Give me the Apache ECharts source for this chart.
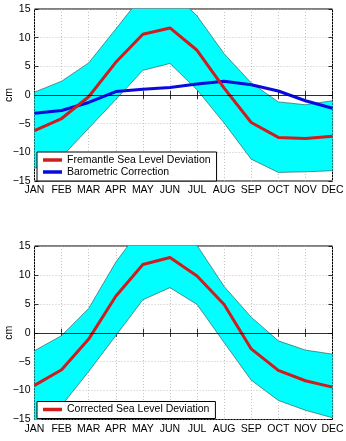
<!DOCTYPE html>
<html>
<head>
<meta charset="utf-8">
<script src="https://cdn.jsdelivr.net/npm/echarts@6/dist/echarts.min.js"></script>
<style>
  html, body { margin: 0; padding: 0; background: #fff; }
  #chart { width: 346px; height: 441px; }
</style>
</head>
<body>
<div id="chart"></div>
<script>
// Monthly sea level at Fremantle (cm), mean curves with min/max envelope
const months = ['JAN', 'FEB', 'MAR', 'APR', 'MAY', 'JUN', 'JUL', 'AUG', 'SEP', 'OCT', 'NOV', 'DEC'];
const yTicks = [-15, -10, -5, 0, 5, 10, 15];

const fremantle      = [-6.2, -4.1, -0.3, 5.7, 10.6, 11.7, 7.8, 1.2, -4.8, -7.4, -7.6, -7.2];
const fremantleUpper = [0.5, 2.4, 5.6, 11.5, 17.5, 18.4, 13.8, 7.2, 2.1, -1.2, -1.7, -1.0];
const fremantleLower = [-12.8, -10.8, -5.8, -0.8, 4.3, 5.5, 0.9, -4.9, -11.2, -13.5, -13.4, -13.2];
const barometric     = [-3.2, -2.7, -1.3, 0.6, 1.0, 1.3, 1.9, 2.4, 1.8, 0.7, -1.0, -2.3];

const corrected      = [-9.1, -6.4, -1.1, 6.3, 11.8, 13.0, 9.8, 4.9, -2.8, -6.5, -8.3, -9.4];
const correctedUpper = [-3.1, -0.5, 4.2, 12.2, 18.5, 19.5, 15.1, 8.0, 2.7, -1.4, -3.0, -3.7];
const correctedLower = [-15.8, -12.6, -6.7, -0.5, 5.7, 7.8, 4.9, -1.7, -8.2, -11.7, -13.4, -14.7];

const FONT = "'Liberation Sans', Arial, Helvetica, sans-serif";
const RED = '#cf1d1d';
const BLUE = '#0a0adc';
const CYAN = '#00ffff';
const EDGE = '#2b6464';

const yMin = yTicks[0], yMax = yTicks[yTicks.length - 1];
const minus = v => String(v).replace('-', '\u2212');

function bandSpread(upper, lower) {
  return upper.map((u, i) => +(u - lower[i]).toFixed(2));
}

function axesFor(gridIndex) {
  const x = [
    {
      type: 'category', gridIndex, data: months, boundaryGap: false, position: 'bottom',
      axisLine: { show: false },
      axisTick: { show: true, inside: true, length: 4, interval: 0, lineStyle: { color: '#000', width: 0.8 } },
      axisLabel: { color: '#000', fontFamily: FONT, fontSize: 10.5, margin: 4, interval: 0 },
      splitLine: { show: true, interval: 0, lineStyle: { color: '#b5b5b5', type: [1, 2], width: 0.8 } }
    },
    {
      type: 'category', gridIndex, data: months, boundaryGap: false, position: 'top',
      axisLine: { show: false },
      axisTick: { show: true, inside: true, length: 4, interval: 0, lineStyle: { color: '#000', width: 0.8 } },
      axisLabel: { show: false },
      splitLine: { show: false }
    }
  ];
  const y = [
    {
      type: 'value', gridIndex, min: yMin, max: yMax, interval: 5, position: 'left',
      name: 'cm', nameLocation: 'middle', nameGap: 25.5, nameRotate: 90, nameMoveOverlap: false,
      nameTextStyle: { color: '#000', fontFamily: FONT, fontSize: 10.5, verticalAlign: 'middle' },
      axisLine: { show: false },
      axisTick: { show: true, inside: true, length: 4, lineStyle: { color: '#000', width: 0.8 } },
      axisLabel: { color: '#000', fontFamily: FONT, fontSize: 10.5, margin: 4, formatter: minus },
      splitLine: { show: true, lineStyle: { color: '#b5b5b5', type: [1, 2], width: 0.8 } }
    },
    {
      type: 'value', gridIndex, min: yMin, max: yMax, interval: 5, position: 'right',
      axisLine: { show: false },
      axisTick: { show: true, inside: true, length: 4, lineStyle: { color: '#000', width: 0.8 } },
      axisLabel: { show: false },
      splitLine: { show: false }
    }
  ];
  return { x, y };
}

function bandSeries(tag, axis, upper, lower) {
  return [
    {
      name: tag + ' lower', type: 'line', xAxisIndex: axis, yAxisIndex: axis,
      data: lower, stack: tag, stackStrategy: 'all', symbol: 'none', silent: true,
      lineStyle: { color: EDGE, width: 0.7 }, z: 1
    },
    {
      name: tag + ' upper', type: 'line', xAxisIndex: axis, yAxisIndex: axis,
      data: bandSpread(upper, lower), stack: tag, stackStrategy: 'all', symbol: 'none', silent: true,
      lineStyle: { color: EDGE, width: 0.7 }, areaStyle: { color: CYAN, opacity: 1 }, z: 1,
      markLine: {
        silent: true, symbol: 'none', label: { show: false },
        lineStyle: { color: '#000', type: 'solid', width: 0.8 },
        data: [{ yAxis: 0 }]
      }
    }
  ];
}

function meanSeries(name, axis, data, color) {
  return {
    name, type: 'line', xAxisIndex: axis, yAxisIndex: axis, data,
    symbol: 'none', lineStyle: { color, width: 3 }, itemStyle: { color }, z: 3
  };
}

function legendBox(top, names) {
  return {
    left: 37, top, orient: 'vertical', data: names, icon: 'rect',
    itemWidth: 19, itemHeight: 3.5, itemGap: 0, selectedMode: false,
    padding: [2, 6, 3, 6], borderColor: '#000', borderWidth: 1, backgroundColor: '#fff',
    textStyle: { color: '#000', fontFamily: FONT, fontSize: 10.5, lineHeight: 12 }
  };
}

const a0 = axesFor(0), a1 = axesFor(1);

const gridBase = {
  left: 34.5, width: 298, show: true, borderColor: '#000', borderWidth: 1,
  backgroundColor: 'transparent', containLabel: false, outerBoundsMode: 'none'
};

const option = {
  animation: false,
  backgroundColor: '#fff',
  grid: [
    Object.assign({ top: 9, height: 172 }, gridBase),
    Object.assign({ top: 246, height: 173.5 }, gridBase)
  ],
  xAxis: [...a0.x, ...a1.x],
  yAxis: [...a0.y, ...a1.y],
  legend: [
    legendBox(152, ['Fremantle Sea Level Deviation', 'Barometric Correction']),
    legendBox(401.5, ['Corrected Sea Level Deviation'])
  ],
  series: [
    ...bandSeries('Fremantle', 0, fremantleUpper, fremantleLower),
    meanSeries('Barometric Correction', 0, barometric, BLUE),
    meanSeries('Fremantle Sea Level Deviation', 0, fremantle, RED),
    ...bandSeries('Corrected', 2, correctedUpper, correctedLower),
    meanSeries('Corrected Sea Level Deviation', 2, corrected, RED)
  ]
};

const chart = echarts.init(document.getElementById('chart'), null, { renderer: 'canvas' });
chart.setOption(option);
</script>
</body>
</html>
